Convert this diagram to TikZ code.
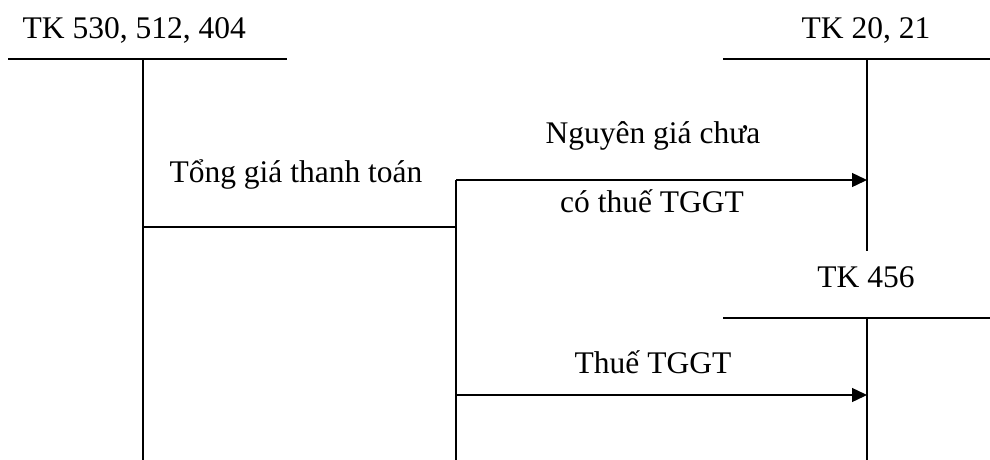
\documentclass[tikz,border=0pt]{standalone}
\usepackage{fontspec}
\setmainfont{Liberation Serif}
\usetikzlibrary{arrows.meta}
\begin{document}
\begin{tikzpicture}[x=1pt,y=-1pt,line width=1.4pt,
  nhan/.style={anchor=base,inner sep=0pt,font=\fontsize{31.5}{38}\selectfont},
  muiten/.style={-{Triangle[length=15pt,width=14pt]}}]
\useasboundingbox (0,0) rectangle (990,460);

% TK 530, 512, 404
\node[nhan,anchor=base west] (tkTrai) at (22,39) {TK 530, 512, 404};
\coordinate (traiA) at (8,59);
\coordinate (traiB) at (287,59);
\coordinate (traiGoc) at (143,59);
\coordinate (traiDay) at (143,460);
\draw (traiA) -- (traiB);
\draw (traiGoc) -- (traiDay);

% TK 20, 21
\node[nhan] (tkTscd) at (866,39) {TK 20, 21};
\coordinate (tscdA) at (723,59);
\coordinate (tscdB) at (990,59);
\coordinate (tscdGoc) at (867,59);
\coordinate (tscdDay) at (867,251);
\draw (tscdA) -- (tscdB);
\draw (tscdGoc) -- (tscdDay);

% TK 456
\node[nhan] (tkThue) at (866,287) {TK 456};
\coordinate (thueA) at (723,318);
\coordinate (thueB) at (990,318);
\coordinate (thueGoc) at (867,318);
\coordinate (thueDay) at (867,460);
\draw (thueA) -- (thueB);
\draw (thueGoc) -- (thueDay);

% but toan
\coordinate (tong) at (143,227);
\coordinate (re) at (456,227);
\coordinate (reTren) at (456,180);
\coordinate (reDuoi) at (456,460);
\coordinate (denTscd) at (867,180);
\coordinate (reThue) at (456,395);
\coordinate (denThue) at (867,395);
\draw (tong) -- (re);
\draw (reTren) -- (reDuoi);
\draw[muiten] (reTren) -- (denTscd);
\draw[muiten] (reThue) -- (denThue);

\node[nhan] (lblTong) at (296,182) {Tổng giá thanh toán};
\node[nhan] (lblNg1) at (653,143) {Nguyên giá chưa};
\node[nhan] (lblNg2) at (652,212) {có thuế TGGT};
\node[nhan] (lblThue) at (653,373) {Thuế TGGT};
\end{tikzpicture}
\end{document}
